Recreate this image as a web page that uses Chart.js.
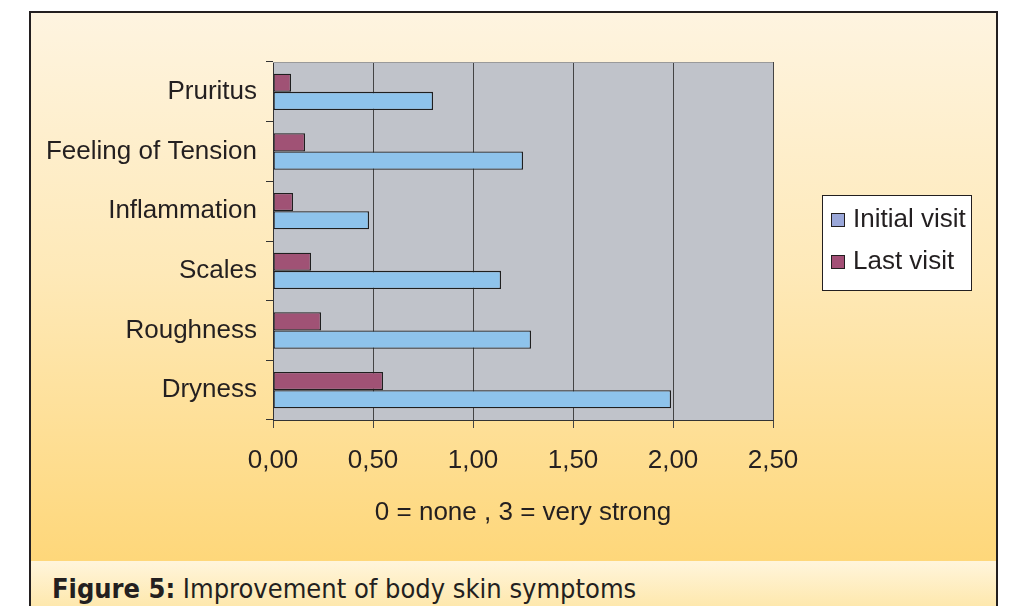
<!DOCTYPE html>
<html><head><meta charset="utf-8">
<script src="https://cdn.jsdelivr.net/npm/chart.js@4"></script>
<style>
html,body{margin:0;padding:0;background:#fff;width:1012px;height:606px;overflow:hidden}
#frame{position:absolute;left:29px;top:11px;width:969px;height:640px;border:2px solid #231f20;box-sizing:border-box;
background:linear-gradient(to bottom,#fef4e0 0px,#fee9b8 260px,#fed77a 548px,#fff5dc 548px,#fee6a6 600px);}
#caption{position:absolute;left:52px;top:574px;font-family:"Liberation Sans Narrow","DejaVu Sans Condensed","Roboto Condensed","Liberation Sans",Arial,sans-serif;font-stretch:condensed;font-size:27px;line-height:30px;color:#231f20;white-space:nowrap}
#caption b{font-weight:bold}
canvas{position:absolute;left:0;top:0}
</style></head>
<body>
<div id="frame"></div>
<div id="caption"><b>Figure 5:</b> Improvement of body skin symptoms</div>
<canvas id="c" width="1012" height="606"></canvas>
<script>
const categories = ['Pruritus','Feeling of Tension','Inflammation','Scales','Roughness','Dryness'];
const initialVisit = [0.80, 1.25, 0.48, 1.14, 1.29, 1.99];
const lastVisit = [0.09, 0.16, 0.10, 0.19, 0.24, 0.55];
const xTickLabels = ['0,00','0,50','1,00','1,50','2,00','2,50'];
const seriesNames = ['Initial visit','Last visit'];
const axisTitle = '0 = none , 3 = very strong';

Chart.defaults.font.family = '"Liberation Sans", Arial, sans-serif';
const txt = '#231f20';

const plotBg = {
  id:'plotBg',
  beforeDraw(chart){
    const {ctx, chartArea:a} = chart;
    ctx.save();
    ctx.fillStyle = '#c0c3ca';
    ctx.fillRect(a.left, a.top, a.right-a.left, a.bottom-a.top);
    ctx.restore();
  },
  afterDraw(chart){
    const {ctx, chartArea:a} = chart;
    ctx.save();
    ctx.strokeStyle = '#9a9a9a';
    ctx.lineWidth = 1;
    ctx.beginPath();
    ctx.moveTo(a.left, a.top+0.5); ctx.lineTo(a.right, a.top+0.5);
    ctx.stroke();
    ctx.restore();
  }
};

const boxLegend = {
  id:'boxLegend',
  afterDraw(chart, args, opts){
    const ctx = chart.ctx;
    const {x,y,w,h,swatches} = opts;
    ctx.save();
    ctx.fillStyle = '#ffffff';
    ctx.fillRect(x,y,w,h);
    ctx.strokeStyle = '#231f20';
    ctx.lineWidth = 1;
    ctx.strokeRect(x+0.5,y+0.5,w,h);
    const items = chart.data.datasets.slice().reverse();
    ctx.font = '26px "Liberation Sans", Arial, sans-serif';
    ctx.textBaseline = 'middle';
    items.forEach((ds,i)=>{
      const cy = y + 25 + i*42;
      ctx.fillStyle = swatches[ds.label];
      ctx.fillRect(x+9.5, cy-6.5, 13, 13);
      ctx.strokeStyle = '#231f20';
      ctx.strokeRect(x+9.5, cy-6.5, 13, 13);
      ctx.fillStyle = txt;
      ctx.fillText(ds.label, x+31, cy);
    });
    ctx.restore();
  }
};

new Chart(document.getElementById('c'), {
  type:'bar',
  data:{
    labels: categories,
    datasets:[
      {label: seriesNames[1], data: lastVisit, backgroundColor:'#a05275', borderColor:'#1f1f1f', borderWidth:1.3, borderSkipped:false},
      {label: seriesNames[0], data: initialVisit, backgroundColor:'#8ec3eb', borderColor:'#1f1f1f', borderWidth:1.3, borderSkipped:false}
    ]
  },
  options:{
    indexAxis:'y',
    responsive:false,
    animation:false,
    datasets:{bar:{categoryPercentage:0.61, barPercentage:1.0}},
    layout:{padding:{left:0, top:62, right:239, bottom:66}},
    plugins:{
      legend:{display:false},
      tooltip:{enabled:false},
      boxLegend:{x:822, y:195, w:149, h:95, swatches:{'Initial visit':'#9aa7d9','Last visit':'#a34f76'}}
    },
    scales:{
      x:{
        type:'linear', min:0, max:2.5,
        afterFit(s){ s.height = 120; },
        ticks:{stepSize:0.5, color:txt, font:{size:26}, padding:17,
          callback:(v,i)=>xTickLabels[i]},
        grid:{color:'#444', lineWidth:1, tickLength:8, drawTicks:true},
        border:{display:true, color:'#333'},
        title:{display:true, text:axisTitle, color:txt, font:{size:26}, padding:{top:0,bottom:12}}
      },
      y:{
        type:'category',
        afterFit(s){ s.width = 273; },
        ticks:{color:txt, font:{size:26}, padding:9},
        grid:{drawOnChartArea:false, drawTicks:true, tickLength:7, color:'#333', offset:true},
        border:{display:true, color:'#333'}
      }
    }
  },
  plugins:[plotBg, boxLegend]
});
</script>
</body></html>
